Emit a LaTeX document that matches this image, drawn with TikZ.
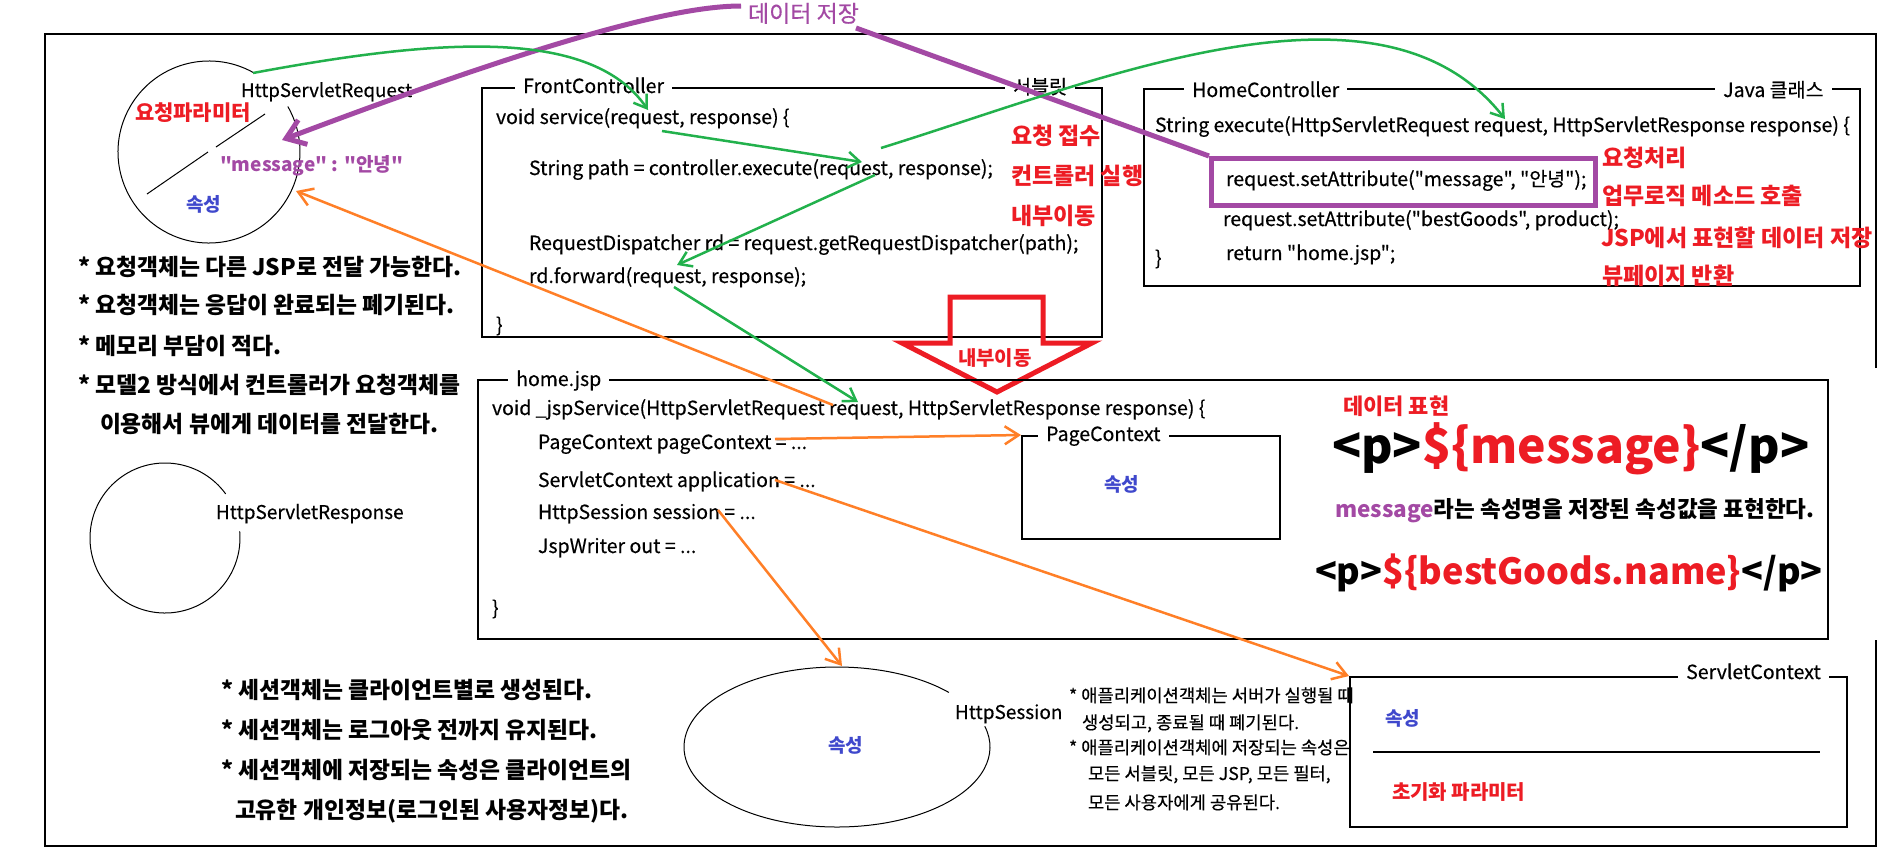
\documentclass[tikz,border=0pt]{standalone}
\usepackage{fontspec}
\setmainfont{Noto Sans CJK KR}
\newfontfamily\krf{Noto Sans CJK KR}
\newfontfamily\krr{Noto Sans CJK KR}[FakeBold=0.35]
\usetikzlibrary{arrows.meta}
\definecolor{pgreen}{HTML}{22B14C}
\definecolor{porange}{HTML}{FF7F27}
\definecolor{ppurple}{HTML}{A349A4}
\definecolor{pred}{HTML}{ED1C24}
\definecolor{pblue}{HTML}{3F48CC}
\newcommand\fsz[1]{\krf\fontsize{#1}{#1}\selectfont}
\newcommand\fsr[1]{\krr\fontsize{#1}{#1}\selectfont}
\tikzset{
  txt/.style={anchor=base west, inner sep=0pt, outer sep=0pt},
  code/.style={txt, font=\fsr{19.5}},
  redlab/.style={txt, text=pred, font=\fsz{23}\bfseries},
  note/.style={txt, font=\fsz{22.8}\bfseries},
  appnote/.style={txt, font=\fsr{17.7}},
  attr/.style={txt, text=pblue, font=\fsz{19}\bfseries},
  boxttl/.style={anchor=base west, fill=white, inner xsep=8pt, inner ysep=3pt, font=\fsr{19.5}},
  boxr/.style={draw=black, line width=1.5pt, anchor=north west, inner sep=0pt},
  thinline/.style={draw=black, line width=1pt},
  garrow/.style={draw=pgreen, line width=2.5pt, -{Straight Barb[length=12pt,width=16pt]}},
  oarrow/.style={draw=porange, line width=2.5pt, -{Straight Barb[length=14pt,width=18pt]}},
  parrow/.style={draw=ppurple, line width=5pt, -{Straight Barb[length=18pt,width=26pt]}},
}
\begin{document}
\begin{tikzpicture}[x=1pt,y=-1pt]
\useasboundingbox (0,0) rectangle (1900,852);
\fill[white] (0,0) rectangle (1900,852);

% outer frame
\draw[line width=1.5pt] (1876,368) -- (1876,34) -- (45,34) -- (45,846) -- (1876,846) -- (1876,640);

% ---------- HttpServletRequest ----------
\coordinate (reqc) at (209,152);
\draw[thinline] ([shift={(61:91pt)}]reqc) arc[start angle=61, end angle=390, radius=91pt];
\draw[thinline] (265,114) -- (216,147);
\draw[thinline] (208,152) -- (147,194);
\node[txt, font=\fsr{18.7}] (reqlbl) at (241,97) {HttpServletRequest};
\node[txt, text=pred, font=\fsz{21}\bfseries] (reqparam) at (135,120) {요청파라미터};
\node[txt, text=ppurple, font=\fsz{19}\bfseries] (reqmsg) at (220,171) {"message" : "안녕"};
\node[attr] (reqattr) at (186,211) {속성};

% left notes
\node[note] (n1) at (78,275) {* 요청객체는 다른 JSP로 전달 가능한다.};
\node[note] (n2) at (78,313) {* 요청객체는 응답이 완료되는 폐기된다.};
\node[note] (n3) at (78,354) {* 메모리 부담이 적다.};
\node[note] (n4) at (78,393) {* 모델2 방식에서 컨트롤러가 요청객체를};
\node[note] (n5) at (100,432) {이용해서 뷰에게 데이터를 전달한다.};

% ---------- HttpServletResponse ----------
\coordinate (resc) at (165,538);
\draw[thinline] ([shift={(36:75pt)}]resc) arc[start angle=36, end angle=365, radius=75pt];
\node[txt, font=\fsr{19}] (reslbl) at (216,519) {HttpServletResponse};

% ---------- FrontController ----------
\node[boxr, minimum width=620pt, minimum height=249pt] (fc) at (481,87) {};
\node[boxttl] (fcttl) at (515,93) {FrontController};
\node[boxttl] (fcttl2) at (1005,94) {서블릿};
\node[code] (fc1) at (496,124) {void service(request, response) \{};
\node[code] (fc2) at (529,175) {String path = controller.execute(request, response);};
\node[code] (fc3) at (529,250) {RequestDispatcher rd = request.getRequestDispatcher(path);};
\node[code] (fc4) at (529,283) {rd.forward(request, response);};
\node[code] (fc5) at (496,332) {\}};
\node[redlab] (fcr1) at (1011,144) {요청 접수};
\node[redlab] (fcr2) at (1011,184) {컨트롤러 실행};
\node[redlab] (fcr3) at (1011,224) {내부이동};

% ---------- HomeController ----------
\node[boxr, minimum width=716pt, minimum height=197pt] (hc) at (1143,88) {};
\node[boxttl] (hcttl) at (1184,97) {HomeController};
\node[boxttl] (hcttl2) at (1715,97) {Java 클래스};
\node[code] (hc1) at (1155,132) {String execute(HttpServletRequest request, HttpServletResponse response) \{};
\node[code] (hc2) at (1226,186) {request.setAttribute("message", "안녕");};
\node[code] (hc3) at (1223,226) {request.setAttribute("bestGoods", product);};
\node[code] (hc4) at (1226,260) {return "home.jsp";};
\node[code] (hc5) at (1155,265) {\}};
\node[draw=ppurple, line width=5pt, anchor=north west, inner sep=0pt, minimum width=384pt, minimum height=47pt] (pbox) at (1209,156) {};
\node[redlab] (hcr1) at (1602,166) {요청처리};
\node[redlab] (hcr2) at (1602,204) {업무로직 메소드 호출};
\node[redlab] (hcr3) at (1601,246) {JSP에서 표현할 데이터 저장};
\node[redlab] (hcr4) at (1602,284) {뷰페이지 반환};

% ---------- red block arrow ----------
\draw[pred, line width=5pt, line join=miter] (950,297) -- (1043,297) -- (1043,343) -- (1092,343) -- (997,392) -- (902,343) -- (950,343) -- cycle;
\node[txt, text=pred, font=\fsz{20}\bfseries] (fwd) at (958,365) {내부이동};

% ---------- home.jsp ----------
\node[boxr, minimum width=1350pt, minimum height=259pt] (hj) at (477,379) {};
\node[boxttl] (hjttl) at (508,386) {home.jsp};
\node[code] (hj1) at (492,415) {void \_jspService(HttpServletRequest request, HttpServletResponse response) \{};
\node[code] (hj2) at (538,449) {PageContext pageContext = ...};
\node[code] (hj3) at (538,487) {ServletContext application = ...};
\node[code] (hj4) at (538,519) {HttpSession session = ...};
\node[code] (hj5) at (538,553) {JspWriter out = ...};
\node[code] (hj6) at (492,615) {\}};
\node[txt, text=pred, font=\fsz{22}\bfseries] (dexp) at (1343,414) {데이터 표현};
\node[txt, font=\fsz{48}\bfseries] (el1) at (1332,463) {<p>\textcolor{pred}{\$\{message\}}</p>};
\node[txt, font=\fsz{22.5}\bfseries] (eltxt) at (1335,517) {\textcolor{ppurple}{message}라는 속성명을 저장된 속성값을 표현한다.};
\node[txt, font=\fsz{36}\bfseries] (el2) at (1315,584) {<p>\textcolor{pred}{\$\{bestGoods.name\}}</p>};

% ---------- PageContext ----------
\node[boxr, minimum width=258pt, minimum height=103pt] (pc) at (1021,435) {};
\node[boxttl] (pcttl) at (1038,441) {PageContext};
\node[attr] (pcattr) at (1104,491) {속성};

% ---------- HttpSession ----------
\coordinate (sesc) at (837,747);
\draw[thinline] ([shift={(43:153pt and 80pt)}]sesc) arc[start angle=43, end angle=375, x radius=153pt, y radius=80pt];
\node[txt, font=\fsr{19}] (seslbl) at (955,719) {HttpSession};
\node[attr] (sesattr) at (828,752) {속성};
\node[note] (s1) at (221,698) {* 세션객체는 클라이언트별로 생성된다.};
\node[note] (s2) at (221,738) {* 세션객체는 로그아웃 전까지 유지된다.};
\node[note] (s3) at (221,778) {* 세션객체에 저장되는 속성은 클라이언트의};
\node[note] (s4) at (235,818) {고유한 개인정보(로그인된 사용자정보)다.};

% application notes
\node[appnote] (a1) at (1069,702) {* 애플리케이션객체는 서버가 실행될 때};
\node[appnote] (a2) at (1082,729) {생성되고, 종료될 때 폐기된다.};
\node[appnote] (a3) at (1069,754) {* 애플리케이션객체에 저장되는 속성은};
\node[appnote] (a4) at (1088,780) {모든 서블릿, 모든 JSP, 모든 필터,};
\node[appnote] (a5) at (1088,809) {모든 사용자에게 공유된다.};

% ---------- ServletContext ----------
\node[boxr, minimum width=497pt, minimum height=150pt] (sc) at (1349,676) {};
\node[boxttl] (scttl) at (1678,679) {ServletContext};
\node[attr] (scattr) at (1385,725) {속성};
\draw[thinline, line width=1.5pt] (1373,752) -- (1820,752);
\node[txt, text=pred, font=\fsz{20}\bfseries] (scinit) at (1392,799) {초기화 파라미터};

% ---------- title ----------
\node[txt, text=ppurple, font=\fsr{23}] (ttl) at (748,22) {데이터 저장};

% ---------- connectors ----------
\coordinate (pp1) at (741,6);
\coordinate (pp2) at (282,140);
\coordinate (pp3) at (856,28);
\draw[parrow] (pp1) .. controls (680,6) and (560,35) .. (pp2);
\draw[draw=ppurple, line width=5pt] (pp3) -- (pbox.north west);

\coordinate (ga1) at (253,73);
\coordinate (ga2) at (648,110);
\draw[garrow] (ga1) .. controls (430,40) and (590,25) .. (ga2);
\coordinate (gb1) at (662,131);
\coordinate (gb2) at (862,162);
\draw[garrow] (gb1) -- (gb2);
\coordinate (gc1) at (881,148);
\coordinate (gc2) at (1505,119);
\draw[garrow] (gc1) .. controls (1100,80) and (1380,-40) .. (gc2);
\coordinate (gd1) at (875,175);
\coordinate (gd2) at (677,265);
\draw[garrow] (gd1) -- (gd2);
\coordinate (ge1) at (674,287);
\coordinate (ge2) at (858,402);
\draw[garrow] (ge1) -- (ge2);

\coordinate (of1) at (833,405);
\coordinate (of2) at (296,191);
\draw[oarrow] (of1) -- (of2);
\coordinate (og1) at (775,439);
\draw[oarrow] (og1) -- (pc.north west);
\coordinate (oh1) at (775,480);
\draw[oarrow] (oh1) -- (sc.north west);
\coordinate (oi1) at (718,510);
\coordinate (oi2) at (842,666);
\draw[oarrow] (oi1) -- (oi2);
\end{tikzpicture}
\end{document}
